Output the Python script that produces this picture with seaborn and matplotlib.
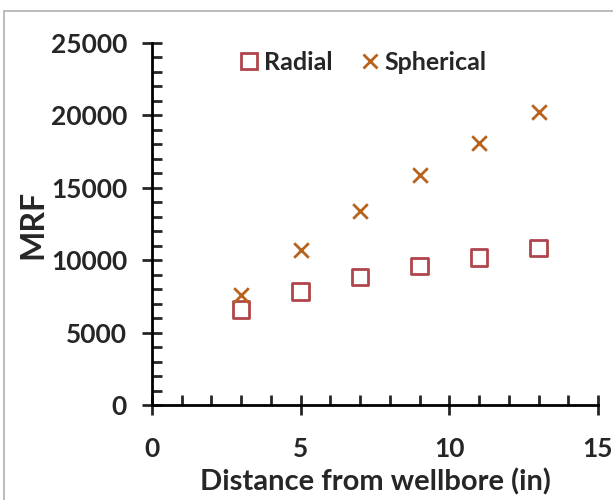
import matplotlib
matplotlib.use("Agg")
import matplotlib.pyplot as plt
from matplotlib.ticker import MultipleLocator
from matplotlib.patches import Rectangle
import seaborn as sns
import pandas as pd

# Data
distance = [3, 5, 7, 9, 11, 13]
radial = [6600, 7850, 8850, 9600, 10200, 10850]
spherical = [7600, 10700, 13400, 15900, 18100, 20250]

radial_color = "#B0444C"
spherical_color = "#B8621C"

sns.set_style("white")
plt.rcParams["font.family"] = ["Lato", "DejaVu Sans"]
plt.rcParams["font.weight"] = "bold"

fig = plt.figure(figsize=(6.13, 5.0), dpi=100)
ax = fig.add_axes([0.248, 0.19, 0.7275, 0.724])

# thin grey frame round the whole picture
fig.patches.append(Rectangle((0.007, -0.01), 1.0, 0.988, transform=fig.transFigure,
                             fill=False, edgecolor="#b0b0b0", linewidth=1.2))

# Radial: hollow squares
sns.scatterplot(x=distance, y=radial, marker="s", s=140, facecolor="none",
                edgecolor=radial_color, linewidth=2.0, ax=ax)
# Spherical: crosses
sns.scatterplot(x=distance, y=spherical, marker="x", s=110, color=spherical_color,
                linewidth=2.0, ax=ax)

ax.set_xlim(0, 15)
ax.set_ylim(0, 25000)
ax.xaxis.set_major_locator(MultipleLocator(5))
ax.xaxis.set_minor_locator(MultipleLocator(1))
ax.yaxis.set_major_locator(MultipleLocator(5000))
ax.yaxis.set_minor_locator(MultipleLocator(1000))

for side in ["top", "right"]:
    ax.spines[side].set_visible(False)
for side in ["left", "bottom"]:
    ax.spines[side].set_linewidth(2.0)
    ax.spines[side].set_color("black")

ax.tick_params(which="major", direction="inout", length=14, width=2, labelsize=19,
               bottom=True, left=True)
ax.tick_params(which="minor", direction="in", length=7, width=2, bottom=True, left=True)
ax.tick_params(axis="x", which="major", pad=16)
ax.tick_params(axis="y", which="major", pad=11)

ax.set_xlabel("Distance from wellbore (in)", fontsize=21, fontweight="bold", labelpad=5)
ax.set_ylabel("MRF", fontsize=23, fontweight="bold", labelpad=2)

# legend
handles = [
    plt.Line2D([], [], linestyle="none", marker="s", markersize=11, markerfacecolor="none",
               markeredgecolor=radial_color, markeredgewidth=2, label="Radial"),
    plt.Line2D([], [], linestyle="none", marker="x", markersize=10,
               markeredgecolor=spherical_color, markeredgewidth=2, label="Spherical"),
]
ax.legend(handles=handles, loc="upper center", bbox_to_anchor=(0.47, 1.04), ncol=2,
          frameon=False, handletextpad=0.1, columnspacing=1.0,
          handlelength=1.0, prop={"weight": "bold", "size": 18})

fig.savefig("out.png", dpi=100)
